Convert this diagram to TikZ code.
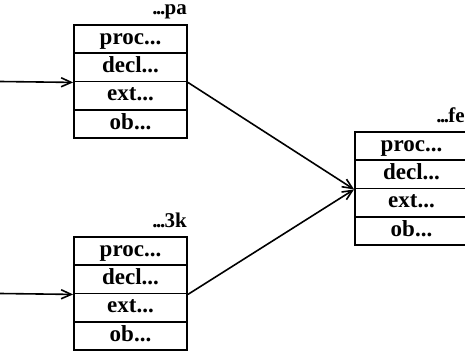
\documentclass[tikz,border=0pt]{standalone}
\usepackage{fontspec}
\setmainfont{Liberation Serif}
\usetikzlibrary{arrows.meta}
% closely set ellipsis used in the record names
\newcommand{\tightdots}{.\kern-0.07em.\kern-0.07em.\kern-0.03em}
\begin{document}
\begin{tikzpicture}[x=1pt,y=-1pt,
  cell/.style={draw,line width=1.8pt,minimum width=113pt,minimum height=28.25pt,
    inner sep=0pt,text height=10.5pt,text depth=0pt,
    font=\fontsize{23}{23}\selectfont\bfseries},
  tag/.style={anchor=base east,inner sep=0pt,font=\fontsize{21}{21}\selectfont\bfseries},
  link/.style={line width=1.6pt,-{Straight Barb[length=10pt,width=9pt,line width=1.6pt]}}]
\useasboundingbox (0,0) rectangle (465,352);

% record ...pa
\node[cell] (pa1) at (130.5,39.1) {proc...};
\node[cell] (pa2) at (130.5,67.4) {decl...};
\node[cell] (pa3) at (130.5,95.6) {ext...};
\node[cell] (pa4) at (130.5,123.9) {ob...};
\node[tag] (palbl) at (187,15) {\tightdots pa};

% record ...3k
\node[cell] (k1) at (130.5,251.1) {proc...};
\node[cell] (k2) at (130.5,279.4) {decl...};
\node[cell] (k3) at (130.5,307.6) {ext...};
\node[cell] (k4) at (130.5,335.9) {ob...};
\node[tag] (klbl) at (187,228) {\tightdots 3k};

% record ...fe
\node[cell] (fe1) at (411.5,146.1) {proc...};
\node[cell] (fe2) at (411.5,174.4) {decl...};
\node[cell] (fe3) at (411.5,202.6) {ext...};
\node[cell] (fe4) at (411.5,230.9) {ob...};
\node[tag] (felbl) at (465,123) {\tightdots fe};

% incoming pointers
\coordinate (inpa) at (0,81.5);
\coordinate (ink) at (0,293.5);
\draw[link] (inpa) -- (pa2.south west);
\draw[link] (ink) -- (k2.south west);

% outgoing pointers into ...fe
\draw[link] (pa2.south east) -- (fe2.south west);
\draw[link] (k2.south east) -- (fe2.south west);
\end{tikzpicture}
\end{document}
